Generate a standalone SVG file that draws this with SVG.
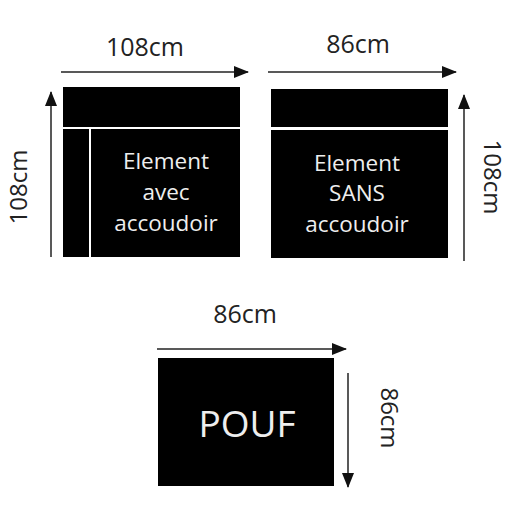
<svg xmlns="http://www.w3.org/2000/svg" width="510" height="510" viewBox="0 0 510 510">
<defs>
<marker id="ah" markerWidth="15" markerHeight="12" refX="14" refY="6" orient="auto" markerUnits="userSpaceOnUse">
<path d="M0,0 L15,6 L0,12 z" fill="#111"/>
</marker>
<style>
.blk{fill:#000}
.in{font-family:"Open Sans","Noto Sans",sans-serif;font-size:22.5px;fill:#eee;text-anchor:middle}
.lab{font-family:"Open Sans","Noto Sans",sans-serif;font-size:25px;fill:#222;text-anchor:middle}
.vlab{font-family:"Open Sans","Noto Sans",sans-serif;font-size:24px;fill:#222;text-anchor:middle}
.arr{stroke:#222;stroke-width:1.5;fill:none;marker-end:url(#ah)}
</style>
</defs>
<rect width="510" height="510" fill="#fff"/>
<g id="element-avec">
<rect class="blk" x="63" y="87" width="177" height="40"/>
<rect class="blk" x="63" y="129" width="26" height="128"/>
<rect class="blk" x="91" y="129" width="149" height="128"/>
<text class="in" x="166" y="169">Element</text>
<text class="in" x="166" y="200">avec</text>
<text class="in" x="166" y="231">accoudoir</text>
</g>
<g id="element-sans">
<rect class="blk" x="271" y="89" width="177" height="38"/>
<rect class="blk" x="271" y="130" width="177" height="128"/>
<text class="in" x="357" y="171">Element</text>
<text class="in" x="357" y="201">SANS</text>
<text class="in" x="357" y="232">accoudoir</text>
</g>
<g id="pouf">
<rect class="blk" x="158" y="358" width="176" height="128"/>
<text x="247" y="437" style="font-family:'Open Sans','Noto Sans',sans-serif;font-size:37px;fill:#eee;text-anchor:middle">POUF</text>
</g>
<g id="connectors">
<line class="arr" x1="61" y1="72" x2="248" y2="72"/>
<line class="arr" x1="51" y1="257" x2="51" y2="92"/>
<line class="arr" x1="268" y1="72" x2="456" y2="72"/>
<line class="arr" x1="464" y1="261" x2="464" y2="95"/>
<line class="arr" x1="157" y1="349" x2="346" y2="349"/>
<line class="arr" x1="348" y1="373" x2="348" y2="487"/>
</g>
<g id="labels">
<text class="lab" x="145" y="56">108cm</text>
<text class="vlab" transform="translate(27,187) rotate(-90)">108cm</text>
<text class="lab" x="358" y="53">86cm</text>
<text class="vlab" transform="translate(484,177) rotate(90)">108cm</text>
<text class="lab" x="245" y="323">86cm</text>
<text class="vlab" transform="translate(381,418) rotate(90)">86cm</text>
</g>
</svg>
